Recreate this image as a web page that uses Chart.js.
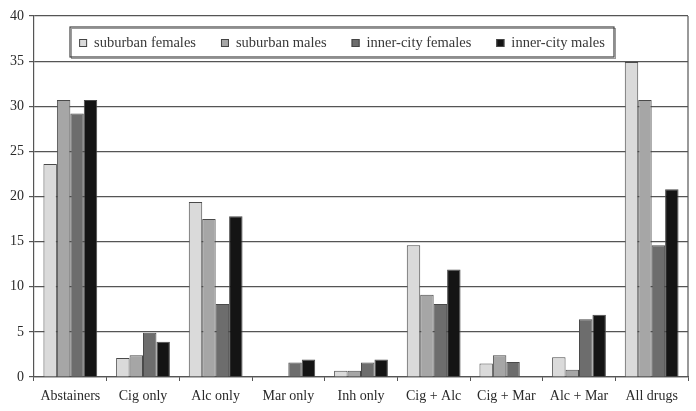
<!DOCTYPE html>
<html>
<head>
<meta charset="utf-8">
<script src="https://cdn.jsdelivr.net/npm/chart.js@4"></script>
<style>
  body { margin: 0; background: #fff; }
  #wrap { width: 696px; height: 411px; }
</style>
</head>
<body>
<div id="wrap"><canvas id="bar-chart" width="696" height="411"></canvas></div>
<script>
// categories and values (percent)
const categories = ["Abstainers", "Cig only", "Alc only", "Mar only", "Inh only", "Cig + Alc", "Cig + Mar", "Alc + Mar", "All drugs"];
const seriesNames = ["suburban females", "suburban males", "inner-city females", "inner-city males"];
const suburbanFemales = [23.6, 2.1, 19.4, 0, 0.7, 14.6, 1.5, 2.2, 34.9];
const suburbanMales = [30.7, 2.4, 17.5, 0, 0.7, 9.1, 2.4, 0.8, 30.7];
const innerCityFemales = [29.2, 4.9, 8.1, 1.6, 1.6, 8.1, 1.65, 6.4, 14.6];
const innerCityMales = [30.7, 3.9, 17.8, 1.95, 1.95, 11.9, 0, 6.9, 20.8];
const yTicks = [0, 5, 10, 15, 20, 25, 30, 35, 40];

const fills = ["#dadada", "#a6a6a6", "#6d6d6d", "#141414"];
const seriesValues = [suburbanFemales, suburbanMales, innerCityFemales, innerCityMales];

const FONT = "'Liberation Serif', 'DejaVu Serif', serif";

// legend box drawn inside the plot, like the original
const boxLegend = {
  id: "boxLegend",
  afterDraw(chart) {
    const ctx = chart.ctx;
    const area = chart.chartArea;
    const x0 = area.left + 36, y0 = area.top + 11, w = 544, h = 30;
    ctx.save();
    ctx.fillStyle = "#fff";
    ctx.fillRect(x0, y0, w, h);
    ctx.strokeStyle = "#9a9a9a";
    ctx.lineWidth = 1;
    ctx.strokeRect(x0 + 1.5, y0 + 1.5, w, h);
    ctx.strokeStyle = "#444";
    ctx.lineWidth = 1.2;
    ctx.strokeRect(x0, y0, w, h);
    ctx.font = "14.5px " + FONT;
    ctx.textBaseline = "middle";
    const gap = 25, mark = 8, mgap = 7;
    let total = 0;
    const widths = chart.data.datasets.map(d => ctx.measureText(d.label).width);
    widths.forEach(tw => total += mark + mgap + tw);
    total += gap * (widths.length - 1);
    let x = x0 + (w - total) / 2;
    const cy = y0 + h / 2 + 1;
    chart.data.datasets.forEach((d, i) => {
      ctx.fillStyle = d.backgroundColor;
      ctx.fillRect(x, cy - mark / 2, mark, mark);
      ctx.strokeStyle = "#444";
      ctx.lineWidth = 1;
      ctx.strokeRect(x + 0.5, cy - mark / 2 + 0.5, mark - 1, mark - 1);
      ctx.fillStyle = "#383838";
      ctx.fillText(d.label, x + mark + mgap, cy);
      x += mark + mgap + widths[i] + gap;
    });
    // right border of the plot
    ctx.strokeStyle = "#555";
    ctx.lineWidth = 1.2;
    ctx.beginPath();
    ctx.moveTo(area.right, area.top);
    ctx.lineTo(area.right, area.bottom);
    ctx.stroke();
    ctx.restore();
  }
};

new Chart(document.getElementById("bar-chart"), {
  type: "bar",
  data: {
    labels: categories,
    datasets: seriesNames.map((name, i) => ({
      label: name,
      data: seriesValues[i],
      backgroundColor: fills[i],
      borderColor: "#4a4a4a",
      borderWidth: 1,
      categoryPercentage: 0.74,
      barPercentage: 1.0
    }))
  },
  options: {
    responsive: false,
    animation: false,
    layout: { padding: { top: 16, right: 8, left: 0, bottom: 0 } },
    plugins: {
      legend: { display: false },
      tooltip: { enabled: false }
    },
    scales: {
      x: {
        grid: { drawOnChartArea: false, color: "#555", tickLength: 4, offset: true },
        border: { color: "#555", width: 1.2 },
        ticks: { color: "#2a2a2a", font: { family: FONT, size: 14 }, padding: 7, maxRotation: 0, autoSkip: false },
        afterFit(scale) { scale.height = 34; }
      },
      y: {
        min: 0,
        max: 40,
        afterBuildTicks(scale) { scale.ticks = yTicks.map(v => ({ value: v })); },
        grid: { color: "#555", lineWidth: 1.2, tickLength: 5 },
        border: { color: "#555", width: 1.2 },
        ticks: { color: "#2a2a2a", font: { family: FONT, size: 14 }, padding: 5 },
        afterFit(scale) { scale.width = 34; }
      }
    }
  },
  plugins: [boxLegend]
});
</script>
</body>
</html>
